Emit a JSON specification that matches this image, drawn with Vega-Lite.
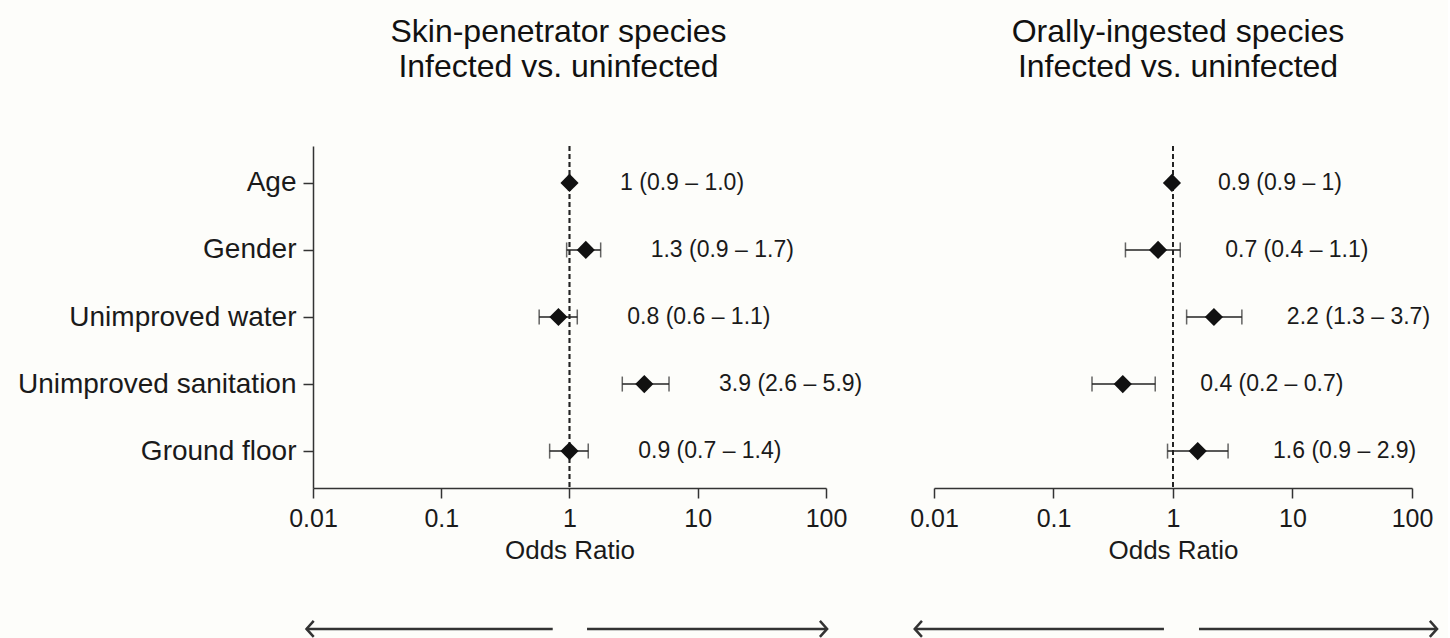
{
  "$schema": "https://vega.github.io/schema/vega-lite/v6.json",
  "background": "#fdfdfa",
  "padding": {"left": 15, "top": 16, "right": 5, "bottom": 2},
  "datasets": {
    "skin": [
      {"factor": "Age", "or": 1.0, "lo": 0.98, "hi": 1.01, "label": "1 (0.9 – 1.0)"},
      {"factor": "Gender", "or": 1.34, "lo": 0.95, "hi": 1.75, "label": "1.3 (0.9 – 1.7)"},
      {"factor": "Unimproved water", "or": 0.82, "lo": 0.58, "hi": 1.15, "label": "0.8 (0.6 – 1.1)"},
      {"factor": "Unimproved sanitation", "or": 3.83, "lo": 2.58, "hi": 5.97, "label": "3.9 (2.6 – 5.9)"},
      {"factor": "Ground floor", "or": 1.0, "lo": 0.7, "hi": 1.4, "label": "0.9 (0.7 – 1.4)"}
    ],
    "oral": [
      {"factor": "Age", "or": 0.98, "lo": 0.965, "hi": 1.0, "label": "0.9 (0.9 – 1)"},
      {"factor": "Gender", "or": 0.75, "lo": 0.4, "hi": 1.15, "label": "0.7 (0.4 – 1.1)"},
      {"factor": "Unimproved water", "or": 2.2, "lo": 1.3, "hi": 3.77, "label": "2.2 (1.3 – 3.7)"},
      {"factor": "Unimproved sanitation", "or": 0.38, "lo": 0.21, "hi": 0.71, "label": "0.4 (0.2 – 0.7)"},
      {"factor": "Ground floor", "or": 1.61, "lo": 0.9, "hi": 2.89, "label": "1.6 (0.9 – 2.9)"}
    ],
    "arrows_skin": [
      {"dir": "left", "tail": 0.74, "head": 0.0089},
      {"dir": "right", "tail": 1.37, "head": 102}
    ],
    "arrows_oral": [
      {"dir": "left", "tail": 0.84, "head": 0.0069},
      {"dir": "right", "tail": 1.65, "head": 162}
    ]
  },
  "config": {
    "font": "Liberation Sans",
    "view": {"stroke": null},
    "axis": {
      "domainColor": "#333333", "domainWidth": 1.5,
      "tickColor": "#333333", "tickWidth": 1.5, "tickSize": 10,
      "labelColor": "#1a1a1a", "titleColor": "#1a1a1a",
      "labelFont": "Liberation Sans", "titleFont": "Liberation Sans",
      "titleFontWeight": "normal", "grid": false, "labelLimit": 400
    },
    "axisX": {"labelFontSize": 25, "labelPadding": 8, "titleFontSize": 26, "titlePadding": 6, "labelFlush": false, "labelOverlap": false},
    "axisY": {"labelFontSize": 28, "labelPadding": 7},
    "title": {"font": "Liberation Sans", "fontSize": 32, "fontWeight": "normal", "color": "#111111", "anchor": "middle", "frame": "group", "lineHeight": 35, "offset": 61}
  },
  "bounds": "flush",
  "spacing": 108,
  "hconcat": [
    {
      "width": 513,
      "height": 342,
      "title": {"text": ["Skin-penetrator species", "Infected vs. uninfected"], "dx": -11},
      "resolve": {"scale": {"y": "independent"}},
      "layer": [
        {
          "data": {"name": "skin"},
          "encoding": {
            "y": {"field": "factor", "type": "nominal", "sort": null, "scale": {"type": "point", "padding": 0.55},
                  "axis": {"title": null, "minExtent": 298, "maxExtent": 298, "labelAlign": "right"}}
          },
          "layer": [
            {
              "mark": {"type": "rule", "strokeDash": [5, 3], "strokeWidth": 1.3, "color": "#222222"},
              "encoding": {"x": {"datum": 1, "type": "quantitative", "scale": {"type": "log", "domain": [0.01, 100]},
                      "axis": {"title": "Odds Ratio", "values": [0.01, 0.1, 1, 10, 100], "format": "~g"}}, "y": null}
            },
            {
              "mark": {"type": "rule", "strokeWidth": 1.5, "color": "#222222"},
              "encoding": {
                "x": {"field": "lo", "type": "quantitative", "scale": {"type": "log", "domain": [0.01, 100]},
                      "axis": {"title": "Odds Ratio", "values": [0.01, 0.1, 1, 10, 100], "format": "~g"}},
                "x2": {"field": "hi"}
              }
            },
            {
              "mark": {"type": "tick", "size": 15, "thickness": 1.5, "color": "#222222"},
              "encoding": {"x": {"field": "lo", "type": "quantitative", "scale": {"type": "log", "domain": [0.01, 100]},
                      "axis": {"title": "Odds Ratio", "values": [0.01, 0.1, 1, 10, 100], "format": "~g"}}}
            },
            {
              "mark": {"type": "tick", "size": 15, "thickness": 1.5, "color": "#222222"},
              "encoding": {"x": {"field": "hi", "type": "quantitative", "scale": {"type": "log", "domain": [0.01, 100]},
                      "axis": {"title": "Odds Ratio", "values": [0.01, 0.1, 1, 10, 100], "format": "~g"}}}
            },
            {
              "mark": {"type": "point", "shape": "diamond", "filled": true, "size": 330, "color": "#111111", "opacity": 1},
              "encoding": {
                "x": {"field": "or", "type": "quantitative", "scale": {"type": "log", "domain": [0.01, 100]},
                      "axis": {"title": "Odds Ratio", "values": [0.01, 0.1, 1, 10, 100], "format": "~g"}}
              }
            },
            {
              "mark": {"type": "text", "align": "left", "baseline": "middle", "dx": 50, "fontSize": 23, "color": "#1a1a1a"},
              "encoding": {
                "x": {"field": "hi", "type": "quantitative", "scale": {"type": "log", "domain": [0.01, 100]},
                      "axis": {"title": "Odds Ratio", "values": [0.01, 0.1, 1, 10, 100], "format": "~g"}},
                "text": {"field": "label"}
              }
            }
          ]
        },
        {
          "data": {"name": "arrows_skin"},
          "encoding": {
            "y": {"datum": -0.412, "type": "quantitative", "scale": {"domain": [0, 1]}, "axis": null}
          },
          "layer": [
            {
              "mark": {"type": "rule", "strokeWidth": 2.5, "color": "#333333"},
              "encoding": {
                "x": {"field": "tail", "type": "quantitative", "scale": {"type": "log", "domain": [0.01, 100]},
                      "axis": {"title": "Odds Ratio", "values": [0.01, 0.1, 1, 10, 100], "format": "~g"}},
                "x2": {"field": "head"}
              }
            },
            {
              "mark": {"type": "point", "filled": false, "size": 256, "strokeWidth": 2.5, "color": "#333333", "opacity": 1},
              "encoding": {
                "x": {"field": "head", "type": "quantitative", "scale": {"type": "log", "domain": [0.01, 100]},
                      "axis": {"title": "Odds Ratio", "values": [0.01, 0.1, 1, 10, 100], "format": "~g"}},
                "shape": {"field": "dir", "type": "nominal", "legend": null,
                          "scale": {"domain": ["left", "right"], "range": ["M0.9,-1L0,0L0.9,1", "M-0.9,-1L0,0L-0.9,1"]}}
              }
            }
          ]
        }
      ]
    },
    {
      "width": 478,
      "height": 342,
      "title": {"text": ["Orally-ingested species", "Infected vs. uninfected"], "dx": 5},
      "resolve": {"scale": {"y": "independent"}},
      "layer": [
        {
          "data": {"name": "oral"},
          "encoding": {
            "y": {"field": "factor", "type": "nominal", "sort": null, "scale": {"type": "point", "padding": 0.55}, "axis": null}
          },
          "layer": [
            {
              "mark": {"type": "rule", "strokeDash": [5, 3], "strokeWidth": 1.3, "color": "#222222"},
              "encoding": {"x": {"datum": 1, "type": "quantitative", "scale": {"type": "log", "domain": [0.01, 100]},
                      "axis": {"title": "Odds Ratio", "values": [0.01, 0.1, 1, 10, 100], "format": "~g"}}, "y": null}
            },
            {
              "mark": {"type": "rule", "strokeWidth": 1.5, "color": "#222222"},
              "encoding": {
                "x": {"field": "lo", "type": "quantitative", "scale": {"type": "log", "domain": [0.01, 100]},
                      "axis": {"title": "Odds Ratio", "values": [0.01, 0.1, 1, 10, 100], "format": "~g"}},
                "x2": {"field": "hi"}
              }
            },
            {
              "mark": {"type": "tick", "size": 15, "thickness": 1.5, "color": "#222222"},
              "encoding": {"x": {"field": "lo", "type": "quantitative", "scale": {"type": "log", "domain": [0.01, 100]},
                      "axis": {"title": "Odds Ratio", "values": [0.01, 0.1, 1, 10, 100], "format": "~g"}}}
            },
            {
              "mark": {"type": "tick", "size": 15, "thickness": 1.5, "color": "#222222"},
              "encoding": {"x": {"field": "hi", "type": "quantitative", "scale": {"type": "log", "domain": [0.01, 100]},
                      "axis": {"title": "Odds Ratio", "values": [0.01, 0.1, 1, 10, 100], "format": "~g"}}}
            },
            {
              "mark": {"type": "point", "shape": "diamond", "filled": true, "size": 330, "color": "#111111", "opacity": 1},
              "encoding": {
                "x": {"field": "or", "type": "quantitative", "scale": {"type": "log", "domain": [0.01, 100]},
                      "axis": {"title": "Odds Ratio", "values": [0.01, 0.1, 1, 10, 100], "format": "~g"}}
              }
            },
            {
              "mark": {"type": "text", "align": "left", "baseline": "middle", "dx": 45, "fontSize": 23, "color": "#1a1a1a"},
              "encoding": {
                "x": {"field": "hi", "type": "quantitative", "scale": {"type": "log", "domain": [0.01, 100]},
                      "axis": {"title": "Odds Ratio", "values": [0.01, 0.1, 1, 10, 100], "format": "~g"}},
                "text": {"field": "label"}
              }
            }
          ]
        },
        {
          "data": {"name": "arrows_oral"},
          "encoding": {
            "y": {"datum": -0.412, "type": "quantitative", "scale": {"domain": [0, 1]}, "axis": null}
          },
          "layer": [
            {
              "mark": {"type": "rule", "strokeWidth": 2.5, "color": "#333333"},
              "encoding": {
                "x": {"field": "tail", "type": "quantitative", "scale": {"type": "log", "domain": [0.01, 100]},
                      "axis": {"title": "Odds Ratio", "values": [0.01, 0.1, 1, 10, 100], "format": "~g"}},
                "x2": {"field": "head"}
              }
            },
            {
              "mark": {"type": "point", "filled": false, "size": 256, "strokeWidth": 2.5, "color": "#333333", "opacity": 1},
              "encoding": {
                "x": {"field": "head", "type": "quantitative", "scale": {"type": "log", "domain": [0.01, 100]},
                      "axis": {"title": "Odds Ratio", "values": [0.01, 0.1, 1, 10, 100], "format": "~g"}},
                "shape": {"field": "dir", "type": "nominal", "legend": null,
                          "scale": {"domain": ["left", "right"], "range": ["M0.9,-1L0,0L0.9,1", "M-0.9,-1L0,0L-0.9,1"]}}
              }
            }
          ]
        }
      ]
    }
  ]
}
